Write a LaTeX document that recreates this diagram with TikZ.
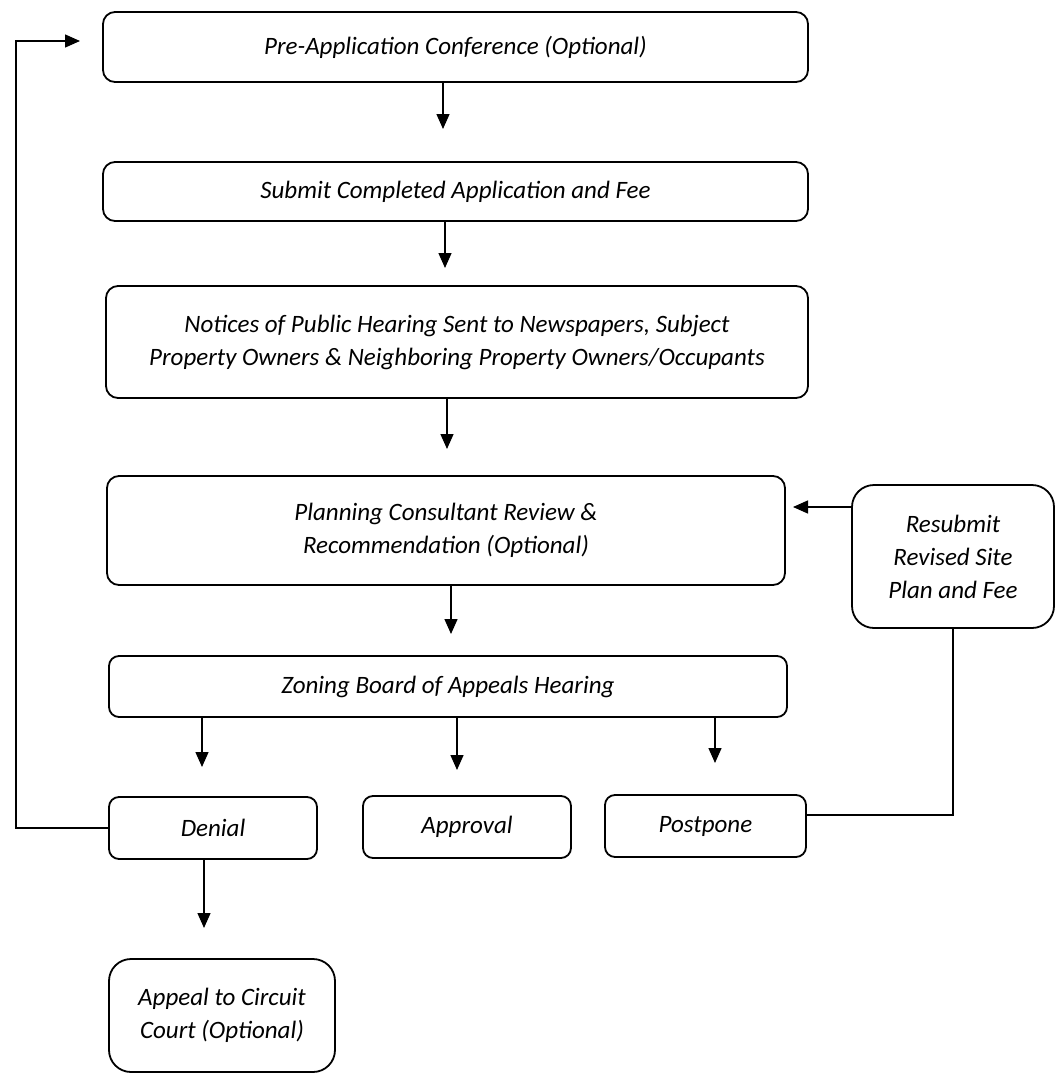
\documentclass[tikz,border=0pt]{standalone}
\usepackage{fontspec}
\setmainfont{Carlito}
\usetikzlibrary{arrows.meta}
\begin{document}
\begin{tikzpicture}[x=1pt,y=-1pt,
  box/.style={draw=black, line width=1.8pt, rounded corners=12pt, align=center,
    inner sep=0pt, font=\fontsize{25}{33}\selectfont\itshape},
  bigbox/.style={box, rounded corners=22pt},
  arr/.style={draw=black, line width=1.4pt, -{Triangle[length=15pt,width=13pt]}},
  ln/.style={draw=black, line width=1.4pt}]
\useasboundingbox (0,0) rectangle (1055,1074);
\fill[white] (0,0) rectangle (1055,1074);

\node[box, minimum width=705pt, minimum height=70pt] (pre) at (455.5,47) {Pre-Application Conference (Optional)};
\node[box, minimum width=705pt, minimum height=59pt] (sub) at (455.5,191.5) {Submit Completed Application and Fee};
\node[box, minimum width=702pt, minimum height=112pt] (not) at (457,342) {Notices of Public Hearing Sent to Newspapers, Subject\\Property Owners \& Neighboring Property Owners/Occupants};
\node[box, minimum width=678pt, minimum height=109pt] (plan) at (446,530.5) {Planning Consultant Review \&\\Recommendation (Optional)};
\node[bigbox, minimum width=202pt, minimum height=143pt] (res) at (953,556.5) {Resubmit\\Revised Site\\Plan and Fee};
\node[box, rounded corners=10pt, minimum width=678pt, minimum height=61pt] (zon) at (448,686.5) {Zoning Board of Appeals Hearing};
\node[box, rounded corners=10pt, minimum width=208pt, minimum height=62pt] (den) at (213,828) {Denial};
\node[box, rounded corners=10pt, minimum width=208pt, minimum height=62pt] (app) at (467,827) {Approval};
\node[box, rounded corners=10pt, minimum width=201pt, minimum height=62pt] (pos) at (705.5,826) {Postpone};
\node[bigbox, minimum width=226pt, minimum height=113pt] (apl) at (222,1015.5) {Appeal to Circuit\\Court (Optional)};

% arrow tips (free ends)
\coordinate (t1) at (443,129);
\coordinate (t2) at (445,268);
\coordinate (t3) at (447,449);
\coordinate (t4) at (451,634);
\coordinate (t5) at (202,767);
\coordinate (t6) at (457,770);
\coordinate (t7) at (715,763);
\coordinate (t8) at (204,928);
\coordinate (t9) at (793,507);
\coordinate (t0) at (80,41);
\coordinate (lc) at (16,827);

\draw[arr] (pre.south -| t1) -- (t1);
\draw[arr] (sub.south -| t2) -- (t2);
\draw[arr] (not.south -| t3) -- (t3);
\draw[arr] (plan.south -| t4) -- (t4);
\draw[arr] (zon.south -| t5) -- (t5);
\draw[arr] (zon.south -| t6) -- (t6);
\draw[arr] (zon.south -| t7) -- (t7);
\draw[arr] (den.south -| t8) -- (t8);
\draw[arr] (res.west |- t9) -- (t9);
\draw[ln] ([yshift=11pt]pos.east) -| (res.south);
\draw[arr] (den.west) -- (den.west -| lc) |- (t0);
\end{tikzpicture}
\end{document}
